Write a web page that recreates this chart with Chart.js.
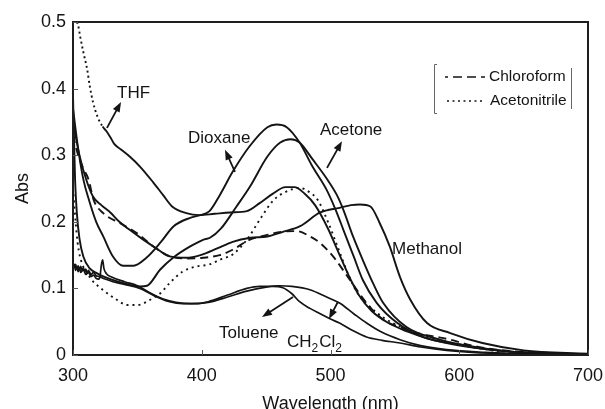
<!DOCTYPE html>
<html>
<head>
<meta charset="utf-8">
<script src="https://cdn.jsdelivr.net/npm/chart.js@4.4.1/dist/chart.umd.min.js"></script>
<style>
  html, body { margin: 0; padding: 0; background: #fff; overflow: hidden; }
  canvas { display: block; }
</style>
</head>
<body>
<canvas id="chart" width="605" height="409"></canvas>
<script>
// UV-Vis absorption spectra of the dye in eight solvents (wavelength in nm, absorbance)
const thfNm  = [303, 304, 305.5, 308, 311, 313, 315.5, 319, 323, 326, 329, 332, 337, 344, 352, 362, 370, 377, 388, 398, 410, 422, 435, 445, 455, 465, 472, 480, 488, 498, 506, 514, 522, 532, 545, 560, 575, 595, 615, 640, 670, 700];
const thfAbs = [0.5, 0.495, 0.479, 0.455, 0.429, 0.404, 0.38, 0.358, 0.343, 0.336, 0.327, 0.317, 0.309, 0.298, 0.283, 0.26, 0.24, 0.223, 0.213, 0.21, 0.212, 0.214, 0.216, 0.228, 0.242, 0.252, 0.252, 0.242, 0.225, 0.19, 0.155, 0.12, 0.09, 0.066, 0.048, 0.035, 0.025, 0.016, 0.01, 0.005, 0.002, 0.001];

const dioxaneNm  = [300, 304, 308, 313, 318, 323.5, 331, 339, 347, 357, 368, 378, 391, 399, 406, 414, 424, 437, 451, 458, 466, 476, 486, 497, 504, 510, 518, 525, 536, 552, 572, 603, 630, 660, 700];
const dioxaneAbs = [0.37, 0.31, 0.264, 0.229, 0.2, 0.178, 0.148, 0.134, 0.134, 0.146, 0.169, 0.193, 0.206, 0.21, 0.216, 0.24, 0.275, 0.313, 0.342, 0.346, 0.342, 0.319, 0.283, 0.248, 0.218, 0.188, 0.148, 0.113, 0.078, 0.048, 0.027, 0.015, 0.007, 0.003, 0.001];

const acetoneNm  = [300, 301.6, 303, 305, 308, 313, 318.4, 323.5, 335, 345, 352, 357.5, 367.6, 377.7, 391, 401, 406.4, 415, 427, 437.5, 451, 461, 469, 476, 486, 497, 505, 510, 517.5, 525, 533, 541, 559, 585, 610, 640, 670, 700];
const acetoneAbs = [0.39, 0.264, 0.213, 0.175, 0.148, 0.13, 0.123, 0.118, 0.11, 0.105, 0.103, 0.104, 0.128, 0.146, 0.163, 0.173, 0.176, 0.19, 0.223, 0.253, 0.298, 0.319, 0.324, 0.319, 0.294, 0.265, 0.24, 0.218, 0.178, 0.143, 0.108, 0.078, 0.042, 0.023, 0.012, 0.005, 0.002, 0.001];

const methanolNm  = [300, 305, 310, 315.5, 322, 329, 336, 344, 354, 364, 375, 388, 399, 412, 424, 438, 451, 463, 476, 492, 507, 516, 523, 531, 538, 546, 554, 562, 575, 593, 618, 650, 700];
const methanolAbs = [0.35, 0.3, 0.265, 0.238, 0.225, 0.214, 0.2, 0.188, 0.174, 0.161, 0.148, 0.146, 0.15, 0.16, 0.17, 0.176, 0.178, 0.185, 0.193, 0.214, 0.221, 0.225, 0.226, 0.223, 0.199, 0.163, 0.117, 0.083, 0.048, 0.033, 0.018, 0.007, 0.002];

const chloroformNm  = [300, 304, 308, 312, 316, 323.5, 336.5, 349.5, 362.4, 375.3, 388, 401, 414, 424, 437, 450, 462, 474, 484, 492, 502, 515, 528, 541, 554, 567, 580, 593, 606, 618, 640, 670, 700];
const chloroformAbs = [0.33, 0.3, 0.28, 0.264, 0.233, 0.213, 0.198, 0.183, 0.163, 0.148, 0.145, 0.146, 0.15, 0.158, 0.173, 0.18, 0.185, 0.186, 0.178, 0.168, 0.148, 0.113, 0.078, 0.053, 0.042, 0.033, 0.028, 0.023, 0.016, 0.011, 0.006, 0.003, 0.001];

const acetonitrileNm  = [300, 302, 303.5, 305.4, 313, 323, 334, 342, 350, 360, 368, 375, 385, 396, 406, 414, 424, 435, 445, 456, 469, 476, 484, 490, 498, 506, 514, 522, 532, 542, 555, 570, 590, 610, 630, 660, 700];
const acetonitrileAbs = [0.25, 0.2, 0.17, 0.148, 0.117, 0.098, 0.083, 0.075, 0.075, 0.083, 0.093, 0.108, 0.125, 0.133, 0.136, 0.143, 0.151, 0.173, 0.203, 0.233, 0.248, 0.251, 0.244, 0.233, 0.2, 0.16, 0.12, 0.09, 0.07, 0.055, 0.042, 0.03, 0.02, 0.012, 0.006, 0.003, 0.001];

const tolueneNm  = [300, 301, 302, 303, 304, 305, 306, 307, 308, 309, 310, 311, 312, 314, 316, 318, 320, 325, 331, 340, 352, 362, 375, 385, 395, 405, 420, 435, 445, 455, 463, 470, 476, 484, 492, 500, 507, 518, 528, 540, 554, 570, 590, 610, 640, 700];
const tolueneAbs = [0.138, 0.132, 0.136, 0.129, 0.134, 0.128, 0.133, 0.127, 0.131, 0.126, 0.129, 0.123, 0.127, 0.121, 0.124, 0.119, 0.118, 0.114, 0.11, 0.106, 0.1, 0.09, 0.08, 0.077, 0.077, 0.08, 0.09, 0.1, 0.103, 0.103, 0.101, 0.092, 0.08, 0.07, 0.062, 0.054, 0.048, 0.036, 0.027, 0.022, 0.018, 0.012, 0.007, 0.004, 0.002, 0.001];

const ch2cl2Nm  = [300, 301, 302, 303, 304, 305, 306, 308, 310, 312, 314, 316, 318, 320, 321, 322, 323, 324, 326, 330, 340, 350, 360, 370, 380, 392, 405, 420, 435, 450, 460, 470, 484, 497, 507, 518, 528, 540, 554, 570, 590, 620, 660, 700];
const ch2cl2Abs = [0.13, 0.136, 0.127, 0.133, 0.125, 0.131, 0.124, 0.128, 0.121, 0.124, 0.118, 0.12, 0.115, 0.114, 0.118, 0.135, 0.143, 0.13, 0.122, 0.117, 0.11, 0.104, 0.093, 0.084, 0.079, 0.077, 0.079, 0.087, 0.096, 0.102, 0.104, 0.103, 0.098, 0.087, 0.078, 0.062, 0.048, 0.034, 0.023, 0.014, 0.008, 0.004, 0.001, 0];

// axis ticks
const xTicks = [300, 400, 500, 600, 700];
const yTicks = [0, 0.1, 0.2, 0.3, 0.4, 0.5];

const FONT = '"Liberation Sans", Arial, Helvetica, sans-serif';
const INK = '#141414';

const pairs = (xs, ys) => xs.map((x, i) => ({ x, y: ys[i] }));

function series(label, xs, ys, extra) {
  return Object.assign({
    label,
    data: pairs(xs, ys),
    borderColor: INK,
    borderWidth: 1.9,
    pointRadius: 0,
    fill: false,
    cubicInterpolationMode: 'monotone'
  }, extra || {});
}

const datasets = [
  series('THF', thfNm, thfAbs, {
    // the short-wavelength tail of this trace is plotted dotted
    segment: { borderDash: ctx => ctx.p0.parsed.x < 323 ? [2, 3] : undefined }
  }),
  series('Dioxane', dioxaneNm, dioxaneAbs),
  series('Acetone', acetoneNm, acetoneAbs),
  series('Methanol', methanolNm, methanolAbs),
  series('Chloroform', chloroformNm, chloroformAbs, { borderDash: [8, 5] }),
  series('Acetonitrile', acetonitrileNm, acetonitrileAbs, { borderDash: [2, 4] }),
  series('Toluene', tolueneNm, tolueneAbs, { borderWidth: 1.7 }),
  series('CH2Cl2', ch2cl2Nm, ch2cl2Abs, { borderWidth: 1.7 })
];

// callout labels: text anchored in data units, arrows from curve (tail) towards label (head)
const callouts = [
  { text: 'THF',      at: [334.2, 0.386], arrow: [[326.4, 0.341], [337.3, 0.380]] },
  { text: 'Dioxane',  at: [389.3, 0.318], arrow: [[425.8, 0.275], [418.1, 0.308]] },
  { text: 'Acetone',  at: [491.8, 0.330], arrow: [[497.3, 0.281], [508.9, 0.321]] },
  { text: 'Methanol', at: [547.8, 0.152] },
  { text: 'Toluene',  at: [413.4, 0.0255], arrow: [[470.9, 0.087], [446.8, 0.057]] },
  { text: 'CH2Cl2',   at: [466.2, 0.012], arrow: [[505.8, 0.080], [498.8, 0.054]], chem: true }
];

function drawArrow(ctx, x0, y0, x1, y1) {
  const a = Math.atan2(y1 - y0, x1 - x0);
  const L = 10, W = 3.8;
  const c = Math.cos(a), s = Math.sin(a);
  ctx.beginPath();
  ctx.moveTo(x0, y0);
  ctx.lineTo(x1 - L * 0.7 * c, y1 - L * 0.7 * s);
  ctx.stroke();
  ctx.beginPath();
  ctx.moveTo(x1, y1);
  ctx.lineTo(x1 - L * c + W * s, y1 - L * s - W * c);
  ctx.lineTo(x1 - L * c - W * s, y1 - L * s + W * c);
  ctx.closePath();
  ctx.fill();
}

function drawChem(ctx, x, y) {
  // CH2Cl2 with subscripted digits
  const big = '17px ' + FONT, small = '12px ' + FONT;
  const parts = [['CH', big, 0], ['2', small, 5], ['Cl', big, 0], ['2', small, 5]];
  let cx = x;
  for (const [t, f, dy] of parts) {
    ctx.font = f;
    ctx.fillText(t, cx, y + dy);
    cx += ctx.measureText(t).width + (dy ? 1 : 0);
  }
}

const decor = {
  id: 'decor',
  afterDatasetsDraw(chart) {
    const { ctx, chartArea: a, scales: { x, y } } = chart;
    ctx.save();
    ctx.strokeStyle = '#1e1e1e';
    ctx.fillStyle = INK;

    // plot frame
    ctx.lineWidth = 2;
    ctx.strokeRect(a.left, a.top, a.right - a.left, a.bottom - a.top);

    // inward tick marks
    ctx.lineWidth = 1;
    ctx.strokeStyle = '#555';
    ctx.beginPath();
    for (const v of xTicks) {
      const px = Math.round(x.getPixelForValue(v)) + 0.5;
      ctx.moveTo(px, a.bottom);
      ctx.lineTo(px, a.bottom - 5);
    }
    for (const v of yTicks) {
      const py = Math.round(y.getPixelForValue(v)) + 0.5;
      ctx.moveTo(a.left, py);
      ctx.lineTo(a.left + 5, py);
    }
    ctx.stroke();

    // callouts
    ctx.strokeStyle = INK;
    ctx.lineWidth = 1.8;
    ctx.textBaseline = 'alphabetic';
    ctx.textAlign = 'left';
    for (const c of callouts) {
      if (c.arrow) {
        const [[n0, v0], [n1, v1]] = c.arrow;
        drawArrow(ctx, x.getPixelForValue(n0), y.getPixelForValue(v0), x.getPixelForValue(n1), y.getPixelForValue(v1));
      }
      const lx = x.getPixelForValue(c.at[0]), ly = y.getPixelForValue(c.at[1]);
      if (c.chem) {
        drawChem(ctx, lx, ly);
      } else {
        ctx.font = '17px ' + FONT;
        ctx.fillText(c.text, lx, ly);
      }
    }

    // legend for the two broken-line traces
    const lx = a.right - 154, ly = a.top + 42;
    ctx.strokeStyle = '#666';
    ctx.lineWidth = 1;
    ctx.beginPath();
    ctx.moveTo(lx + 3, ly + 0.5); ctx.lineTo(lx + 0.5, ly + 0.5);
    ctx.lineTo(lx + 0.5, ly + 49.5); ctx.lineTo(lx + 3, ly + 49.5);
    ctx.moveTo(lx + 137.5, ly + 4); ctx.lineTo(lx + 137.5, ly + 45);
    ctx.stroke();

    ctx.strokeStyle = INK;
    ctx.lineWidth = 1.7;
    ctx.setLineDash([9, 5]);
    ctx.lineDashOffset = 6;
    ctx.beginPath();
    ctx.moveTo(lx + 11, ly + 13); ctx.lineTo(lx + 51, ly + 13);
    ctx.stroke();
    ctx.setLineDash([2, 3.5]);
    ctx.lineDashOffset = 0;
    ctx.beginPath();
    ctx.moveTo(lx + 13, ly + 37); ctx.lineTo(lx + 51, ly + 37);
    ctx.stroke();
    ctx.setLineDash([]);

    ctx.font = '15.5px ' + FONT;
    ctx.textBaseline = 'middle';
    ctx.fillText('Chloroform', lx + 55, ly + 13);
    ctx.fillText('Acetonitrile', lx + 56, ly + 37);
    ctx.restore();
  }
};

Chart.defaults.font.family = FONT;
Chart.defaults.color = INK;

new Chart(document.getElementById('chart'), {
  type: 'line',
  data: { datasets },
  options: {
    responsive: false,
    animation: false,
    devicePixelRatio: 1,
    layout: { padding: { top: 22, right: 17, left: 0, bottom: 0 } },
    plugins: { legend: { display: false }, tooltip: { enabled: false } },
    scales: {
      x: {
        type: 'linear',
        min: 300, max: 700,
        afterBuildTicks: s => { s.ticks = xTicks.map(v => ({ value: v })); },
        afterFit: s => { s.height = 54; s.paddingLeft = 0; s.paddingRight = 0; },
        grid: { display: false, drawTicks: false },
        border: { display: false },
        ticks: { font: { size: 18 }, color: INK, padding: 10, maxRotation: 0, autoSkip: false },
        title: { display: true, text: 'Wavelength (nm)', font: { size: 18 }, color: INK, padding: { top: 0, bottom: -6 } }
      },
      y: {
        type: 'linear',
        min: 0, max: 0.5,
        afterBuildTicks: s => { s.ticks = yTicks.map(v => ({ value: v })); },
        afterFit: s => { s.width = 73; s.paddingTop = 0; s.paddingBottom = 0; },
        grid: { display: false, drawTicks: false },
        border: { display: false },
        ticks: {
          font: { size: 18 }, color: INK, padding: 7,
          callback: v => (v === 0 ? '0' : v.toFixed(1))
        },
        title: { display: true, text: 'Abs', font: { size: 18 }, color: INK, padding: { top: 12, bottom: 0 } }
      }
    }
  },
  plugins: [decor]
});
</script>
</body>
</html>
